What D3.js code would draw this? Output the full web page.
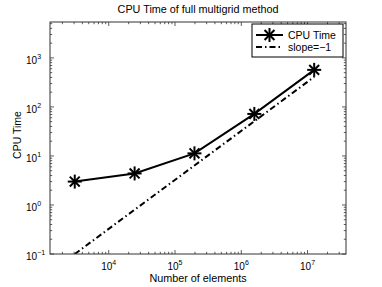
<!DOCTYPE html>
<html>
<head>
<meta charset="utf-8">
<script src="https://cdn.jsdelivr.net/npm/d3@7"></script>
<style>
  body { margin: 0; background: #fff; }
  text { font-family: "Liberation Sans", Arial, sans-serif; fill: #000; }
</style>
</head>
<body>
<svg id="chart"></svg>
<script>
// data
const elements = [3072, 24576, 196608, 1572864, 12582912];
const cpuTime = [3.0, 4.4, 11.3, 72, 570];
const slopeRef = [0.1, 0.8, 6.4, 51, 410];
const xDecades = [4, 5, 6, 7];
const yDecades = [-1, 0, 1, 2, 3];
const legendLabels = ['CPU Time', 'slope=\u22121'];

const width = 382, height = 287;
const margin = {top: 22, right: 36, bottom: 33, left: 50};
const innerW = width - margin.left - margin.right;
const innerH = height - margin.top - margin.bottom;

const svg = d3.select('#chart')
    .attr('width', width)
    .attr('height', height);

const x = d3.scaleLog().domain([1300, 3.8e7]).range([0, innerW]);
const y = d3.scaleLog().domain([0.1, 5400]).range([innerH, 0]);

const chart = svg.append('g')
    .attr('transform', `translate(${margin.left},${margin.top})`);

// minor + major ticks, inside the box on all four sides
function tickList(scale) {
  const [d0, d1] = scale.domain();
  const out = [];
  for (let e = Math.floor(Math.log10(d0)); e <= Math.ceil(Math.log10(d1)); e++) {
    for (let m = 1; m < 10; m++) {
      const v = m * Math.pow(10, e);
      if (v >= d0 && v <= d1) out.push({v: v, major: m === 1});
    }
  }
  return out;
}

const tickColor = '#333';
tickList(x).forEach(t => {
  const px = x(t.v), len = t.major ? 4 : 2.2;
  chart.append('line').attr('x1', px).attr('x2', px).attr('y1', innerH).attr('y2', innerH - len)
      .attr('stroke', tickColor).attr('stroke-width', 0.8);
  chart.append('line').attr('x1', px).attr('x2', px).attr('y1', 0).attr('y2', len)
      .attr('stroke', tickColor).attr('stroke-width', 0.8);
});
tickList(y).forEach(t => {
  const py = y(t.v), len = t.major ? 4 : 2.2;
  chart.append('line').attr('x1', 0).attr('x2', len).attr('y1', py).attr('y2', py)
      .attr('stroke', tickColor).attr('stroke-width', 0.8);
  chart.append('line').attr('x1', innerW).attr('x2', innerW - len).attr('y1', py).attr('y2', py)
      .attr('stroke', tickColor).attr('stroke-width', 0.8);
});

// tick labels as 10^n
xDecades.forEach(e => {
  const t = chart.append('text')
      .attr('x', x(Math.pow(10, e)))
      .attr('y', innerH + 16)
      .attr('text-anchor', 'middle')
      .attr('font-size', 10);
  t.append('tspan').text('10');
  t.append('tspan').attr('dy', -5).attr('font-size', 7).text(e);
});
// bases line up in one column, exponents hang to the right
yDecades.forEach(e => {
  const t = chart.append('text')
      .attr('x', -24)
      .attr('y', y(Math.pow(10, e)) + 6)
      .attr('font-size', 10);
  t.append('tspan').text('10');
  t.append('tspan').attr('dy', -5).attr('font-size', 7).text(e < 0 ? '\u22121' : e);
});

// clip so the reference line stays inside the axes
chart.append('clipPath').attr('id', 'clip')
  .append('rect').attr('width', innerW).attr('height', innerH);

const line = d3.line().x(d => x(d[0])).y(d => y(d[1]));

chart.append('path')
    .datum(d3.zip(elements, slopeRef))
    .attr('clip-path', 'url(#clip)')
    .attr('d', line)
    .attr('fill', 'none')
    .attr('stroke', '#000')
    .attr('stroke-width', 2)
    .attr('stroke-dasharray', '6,3,1.5,3');

chart.append('path')
    .datum(d3.zip(elements, cpuTime))
    .attr('d', line)
    .attr('fill', 'none')
    .attr('stroke', '#000')
    .attr('stroke-width', 2);

function asterisk(g, cx, cy, r) {
  [0, 45, 90, 135].forEach(a => {
    const rad = a * Math.PI / 180;
    g.append('line')
        .attr('x1', cx - r * Math.cos(rad)).attr('y1', cy - r * Math.sin(rad))
        .attr('x2', cx + r * Math.cos(rad)).attr('y2', cy + r * Math.sin(rad))
        .attr('stroke', '#000').attr('stroke-width', 2);
  });
}
elements.forEach((n, i) => asterisk(chart, x(n), y(cpuTime[i]), 7));

// box
chart.append('rect')
    .attr('width', innerW).attr('height', innerH)
    .attr('fill', 'none').attr('stroke', '#333').attr('stroke-width', 1);

// legend
const lg = svg.append('g').attr('transform', 'translate(252,24)');
lg.append('rect').attr('width', 91).attr('height', 33)
    .attr('fill', '#fff').attr('stroke', '#000').attr('stroke-width', 1);
lg.append('line').attr('x1', 4).attr('x2', 31).attr('y1', 11).attr('y2', 11)
    .attr('stroke', '#000').attr('stroke-width', 2);
asterisk(lg, 17.5, 11, 7);
lg.append('line').attr('x1', 4).attr('x2', 31).attr('y1', 23).attr('y2', 23)
    .attr('stroke', '#000').attr('stroke-width', 2).attr('stroke-dasharray', '6,3,1.5,3');
legendLabels.forEach((s, i) => {
  lg.append('text').attr('x', 36).attr('y', 15 + i * 12)
      .attr('font-size', 10.5).text(s);
});

// titles
svg.append('text')
    .attr('x', margin.left + innerW / 2).attr('y', 13)
    .attr('text-anchor', 'middle').attr('font-size', 10.8)
    .text('CPU Time of full multigrid method');
svg.append('text')
    .attr('x', margin.left + innerW / 2).attr('y', 282)
    .attr('text-anchor', 'middle').attr('font-size', 10.8)
    .text('Number of elements');
svg.append('text')
    .attr('transform', `translate(21,${margin.top + innerH / 2 - 3}) rotate(-90)`)
    .attr('text-anchor', 'middle').attr('font-size', 10.5)
    .text('CPU Time');
</script>
</body>
</html>
